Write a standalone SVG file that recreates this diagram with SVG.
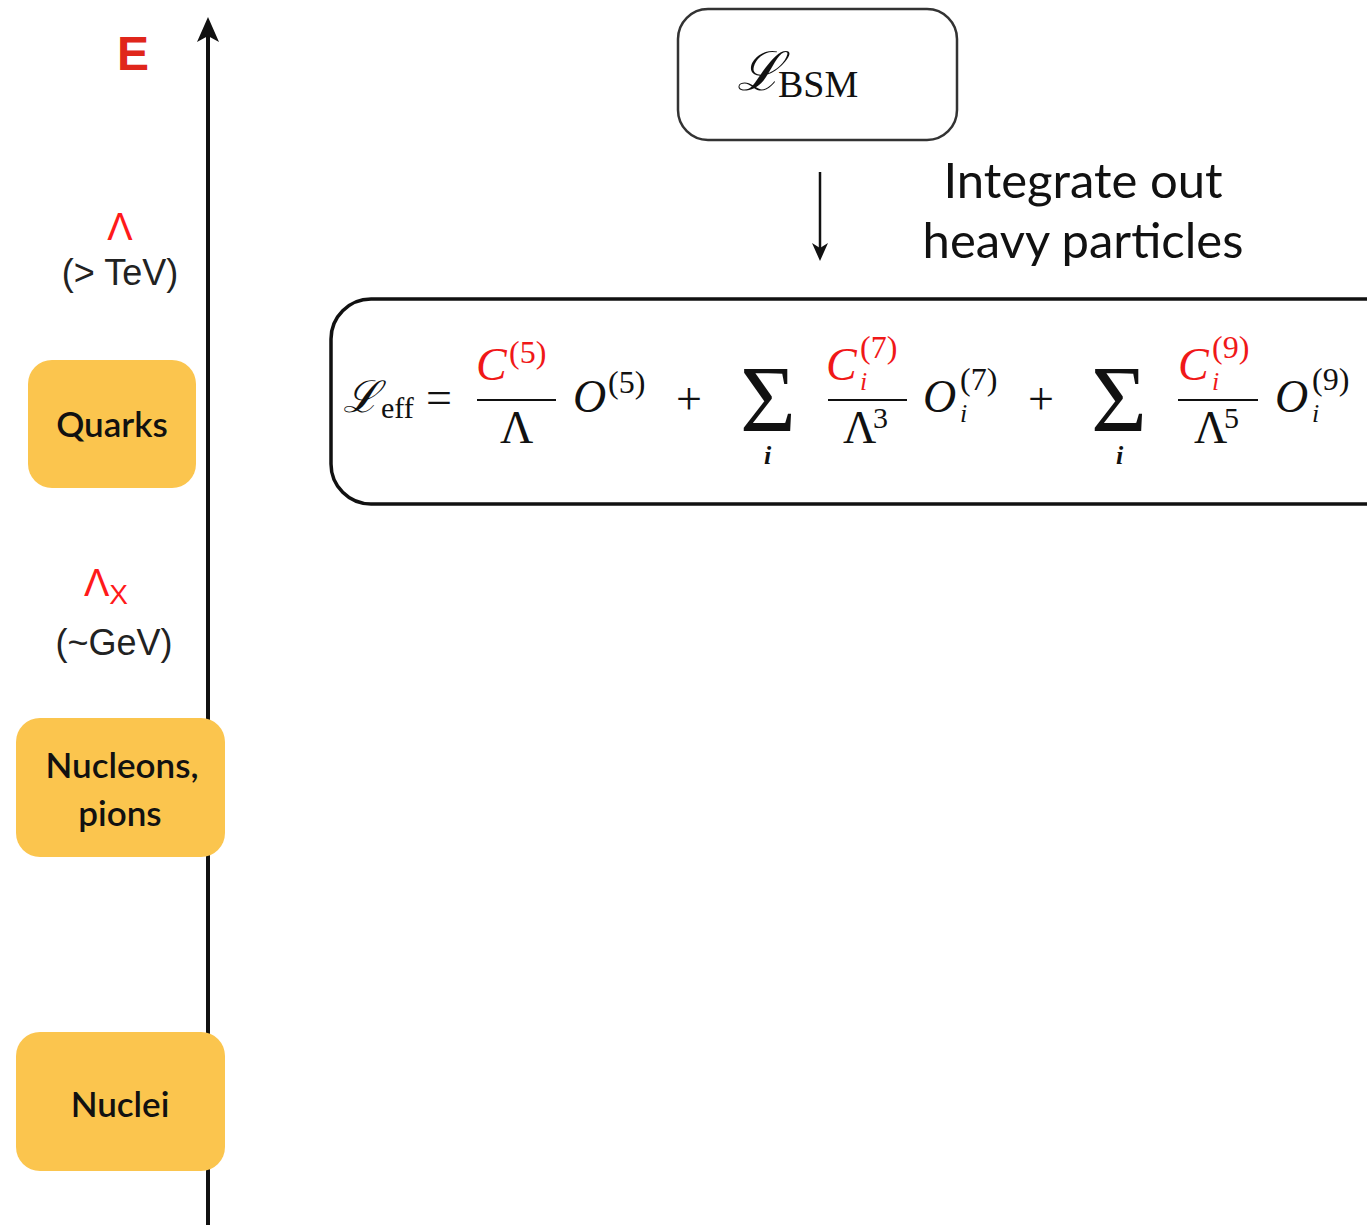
<svg xmlns="http://www.w3.org/2000/svg" width="1367" height="1225" viewBox="0 0 1367 1225">
<style>
.box{fill:#fbc54e;stroke:none}
.lbl{font-family:Lato,"Open Sans",sans-serif;font-size:35px;font-weight:600;fill:#111;text-anchor:middle}
.red{fill:#e8261a}
.ax{font-family:"Liberation Sans",Arial,sans-serif;fill:#222;text-anchor:middle}
.m{font-family:"Liberation Serif","Times New Roman",serif;fill:#111}
.mi{font-family:"Liberation Serif","Times New Roman",serif;font-style:italic;fill:#111}
.r{fill:#f01818}
.gs{font-family:Lato,"Open Sans",sans-serif;font-size:49px;fill:#111;text-anchor:middle}
.sig{font-family:"Liberation Serif","Times New Roman",serif;font-size:96px;fill:#111;text-anchor:middle}
</style>
<g id="connectors">
<path d="M208,1225 V30" stroke="#111" stroke-width="4" fill="none"/>
<path d="M197,42 L208,17 L219,42 L208,36 Z" fill="#111"/>
<path d="M820,172 V250" stroke="#111" stroke-width="2.5" fill="none"/>
<path d="M812,243 L820,261 L828,243 L820,248 Z" fill="#111"/>
</g>
<g id="axis-labels">
<text x="133" y="70" class="ax red" style="font-size:48px;font-weight:bold;fill:#e0261b">E</text>
<text x="120" y="240" class="ax red" style="font-size:38px;fill:#ff1a1a">Λ</text>
<text x="120" y="285" class="ax" style="font-size:36px">(&gt; TeV)</text>
<text x="106" y="596" class="ax" style="font-size:38px;fill:#ff1a1a">Λ<tspan dy="8" style="font-size:28px">X</tspan></text>
<text x="114" y="655" class="ax" style="font-size:36px">(~GeV)</text>
</g>
<g id="quarks">
<rect class="box" x="28" y="360" width="168" height="128" rx="24"/>
<text class="lbl" x="112" y="437">Quarks</text>
</g>
<g id="nucleons">
<rect class="box" x="16" y="718" width="209" height="139" rx="24"/>
<text class="lbl" x="122" y="778">Nucleons,</text>
<text class="lbl" x="120" y="826">pions</text>
</g>
<g id="nuclei">
<rect class="box" x="16" y="1032" width="209" height="139" rx="24"/>
<text class="lbl" x="120" y="1117">Nuclei</text>
</g>
<g id="bsm">
<rect x="678" y="9" width="279" height="131" rx="30" fill="#fff" stroke="#333" stroke-width="2.5"/>
<text x="737" y="90" class="mi" style="font-size:54px">ℒ</text>
<text x="778" y="97" class="m" style="font-size:38px">BSM</text>
</g>
<g id="integrate-label">
<text class="gs" x="1083" y="198">Integrate out</text>
<text class="gs" x="1083" y="258">heavy particles</text>
</g>
<g id="leff">
<rect x="331" y="299" width="1080" height="205" rx="40" fill="#fff" stroke="#111" stroke-width="3.5"/>
<text x="343" y="412" class="mi" style="font-size:44px">ℒ</text>
<text x="381" y="418" class="m" style="font-size:30px">eff</text>
<text x="426" y="413" class="m" style="font-size:46px">=</text>
<text x="476" y="380" class="mi r" style="font-size:46px">C</text>
<text x="509" y="363" class="m r" style="font-size:32px">(5)</text>
<line x1="477" y1="400" x2="556" y2="400" stroke="#111" stroke-width="2"/>
<text x="500" y="443" class="m" style="font-size:46px">Λ</text>
<text x="573" y="412" class="mi" style="font-size:46px">O</text>
<text x="608" y="393" class="m" style="font-size:32px">(5)</text>
<text x="676" y="414" class="m" style="font-size:46px">+</text>
<text x="768" y="432" class="sig">Σ</text>
<text x="764" y="464" class="mi" style="font-size:26px;font-weight:bold">i</text>
<text x="826" y="380" class="mi r" style="font-size:46px">C</text>
<text x="860" y="390" class="mi r" style="font-size:26px">i</text>
<text x="860" y="358" class="m r" style="font-size:32px">(7)</text>
<line x1="828" y1="400" x2="907" y2="400" stroke="#111" stroke-width="2"/>
<text x="843" y="443" class="m" style="font-size:46px">Λ</text>
<text x="873" y="428" class="m" style="font-size:30px">3</text>
<text x="923" y="412" class="mi" style="font-size:46px">O</text>
<text x="960" y="422" class="mi" style="font-size:26px">i</text>
<text x="960" y="390" class="m" style="font-size:32px">(7)</text>
<text x="1028" y="414" class="m" style="font-size:46px">+</text>
<text x="1119" y="432" class="sig">Σ</text>
<text x="1116" y="464" class="mi" style="font-size:26px;font-weight:bold">i</text>
<text x="1178" y="380" class="mi r" style="font-size:46px">C</text>
<text x="1212" y="390" class="mi r" style="font-size:26px">i</text>
<text x="1212" y="358" class="m r" style="font-size:32px">(9)</text>
<line x1="1178" y1="400" x2="1258" y2="400" stroke="#111" stroke-width="2"/>
<text x="1194" y="443" class="m" style="font-size:46px">Λ</text>
<text x="1224" y="428" class="m" style="font-size:30px">5</text>
<text x="1275" y="412" class="mi" style="font-size:46px">O</text>
<text x="1312" y="422" class="mi" style="font-size:26px">i</text>
<text x="1312" y="390" class="m" style="font-size:32px">(9)</text>
</g>
</svg>
